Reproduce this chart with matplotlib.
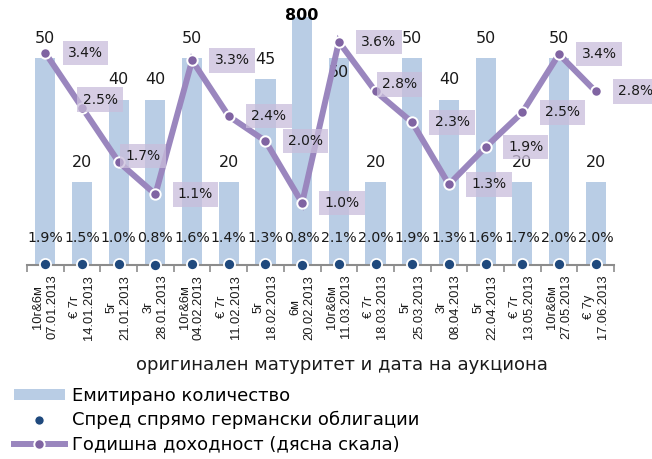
import matplotlib
matplotlib.use('Agg')
import matplotlib.pyplot as plt
import numpy as np
from matplotlib.lines import Line2D
from matplotlib.patches import Patch

maturity = ['10г&6м', '€ 7г', '5г', '3г', '10г&6м', '€ 7г', '5г', '6м',
            '10г&6м', '€ 7г', '5г', '3г', '5г', '€ 7г', '10г&6м', '€ 7у']
dates = ['07.01.2013', '14.01.2013', '21.01.2013', '28.01.2013', '04.02.2013',
         '11.02.2013', '18.02.2013', '20.02.2013', '11.03.2013', '18.03.2013',
         '25.03.2013', '08.04.2013', '22.04.2013', '13.05.2013', '27.05.2013',
         '17.06.2013']
issued = [50, 20, 40, 40, 50, 20, 45, 800, 50, 20, 50, 40, 50, 20, 50, 20]
spread = [1.9, 1.5, 1.0, 0.8, 1.6, 1.4, 1.3, 0.8, 2.1, 2.0, 1.9, 1.3, 1.6, 1.7, 2.0, 2.0]
yields = [3.42, 2.54, 1.66, 1.14, 3.3, 2.4, 2.0, 1.0, 3.6, 2.8, 2.3, 1.3, 1.9, 2.46, 3.4, 2.8]

legend_labels = ['Емитирано количество', 'Спред спрямо германски облигации',
                 'Годишна доходност (дясна скала)']
xlabel = 'оригинален матуритет и дата на аукциона'

BAR = '#B9CDE5'
NAVY = '#1F497D'
LINE = '#9A86BE'
MARK = '#8064A2'
BOX = '#C9BDDB'
GRAY = '#8C8C8C'

plt.rcParams['font.family'] = ['DejaVu Sans']

W, H = 652, 459
fig = plt.figure(figsize=(W / 100, H / 100), dpi=100)
ax = fig.add_axes([27 / W, 1 - 265 / H, 587 / W, 248 / H])
x = np.arange(len(issued))

ax.bar(x, issued, width=0.55, color=BAR, zorder=1)
ax.set_xlim(-0.5, len(issued) - 0.5)
ax.set_ylim(0, 60)
for s in ['top', 'left', 'right']:
    ax.spines[s].set_visible(False)
ax.spines['bottom'].set_color(GRAY)
ax.spines['bottom'].set_linewidth(1.5)
ax.set_yticks([])
ax.set_xticks(np.arange(-0.5, len(issued), 1))
ax.set_xticklabels([])
ax.tick_params(axis='x', which='major', length=5, width=1.2, color=GRAY)
ax.set_xticks(x, minor=True)
ax.set_xticklabels([f'{m}\n{d}' for m, d in zip(maturity, dates)], minor=True,
                   rotation=90, fontsize=9.3, family='Liberation Sans',
                   va='top', ha='center', multialignment='center',
                   linespacing=1.2, color='#1a1a1a')
ax.tick_params(axis='x', which='minor', length=0, pad=7)

# bar value labels
bar_label_shift = {8: -14}
for i, v in enumerate(issued):
    if v > 60:
        ax.annotate(str(v), (i, 60), xytext=(0, 1), textcoords='offset pixels',
                    ha='center', va='center', fontsize=11.5, fontweight='bold',
                    annotation_clip=False, zorder=3)
    else:
        ax.annotate(str(v), (i, v), xytext=(0, bar_label_shift.get(i, 20)),
                    textcoords='offset pixels', ha='center', va='center',
                    fontsize=11.5, color='#1a1a1a', zorder=3)

# spread labels
for i, v in enumerate(spread):
    ax.text(i, 0.109, f'{v:.1f}%', transform=ax.get_xaxis_transform(),
            ha='center', va='center', fontsize=10.2, color='#1a1a1a', zorder=3)

# spread dots on their own hidden scale
ax3 = ax.twinx()
ax3.set_ylim(0, 400)
ax3.axis('off')
ax3.plot(x, spread, 'o', color=NAVY, ms=8, mec='white', mew=1.3,
         clip_on=False, zorder=5)

# yield line
ax2 = ax.twinx()
ax2.set_ylim(0, 4)
ax2.axis('off')
ax2.plot(x, yields, color=LINE, lw=4.3, marker='o', ms=7.5, mfc=MARK,
         mec='white', mew=1.4, zorder=4, solid_joinstyle='miter')
label_shift = {1: (18, 8), 2: (24, 6), 9: (24, 7)}
for i, v in enumerate(yields):
    dx, dy = label_shift.get(i, (40, 0))
    ax2.annotate(f'{v:.1f}%', (i, v), xytext=(dx, dy), textcoords='offset pixels',
                 ha='center', va='center', fontsize=10, color='#1a1a1a',
                 annotation_clip=False, zorder=6,
                 bbox=dict(boxstyle='square,pad=0.38', fc=BOX, ec='none', alpha=0.75))

fig.text(342 / W, 1 - 365 / H, xlabel, ha='center', va='center', fontsize=13,
         color='#1a1a1a')

handles = [Patch(facecolor=BAR, edgecolor='none'),
           Line2D([], [], ls='none', marker='o', color=NAVY, ms=7, mec='white'),
           Line2D([], [], color=LINE, lw=4.3, marker='o', ms=7.5, mfc=MARK,
                  mec='white', mew=1.4)]
fig.legend(handles, legend_labels, loc='upper left',
           bbox_to_anchor=(14 / W, 1 - 387 / H), frameon=False, fontsize=13,
           borderpad=0, borderaxespad=0, handlelength=2.8, handletextpad=0.4,
           labelspacing=0.34, handleheight=0.5)

fig.savefig('out.png', dpi=100)
